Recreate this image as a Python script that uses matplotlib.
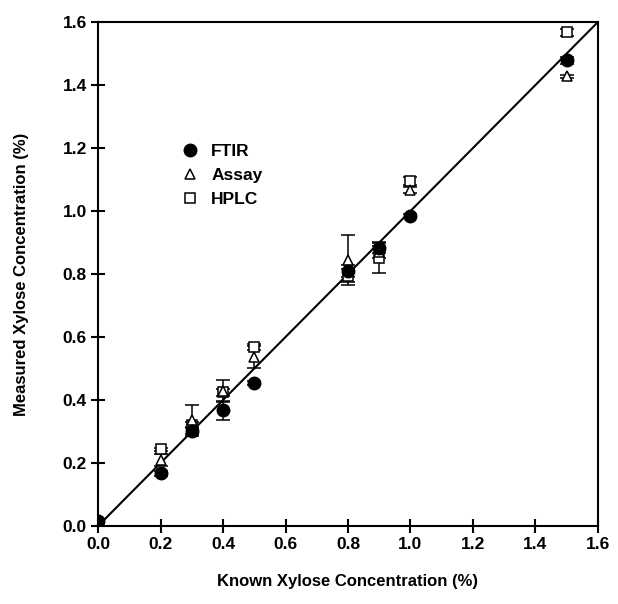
import matplotlib.pyplot as plt

known = [0.0, 0.2, 0.3, 0.4, 0.5, 0.8, 0.9, 1.0, 1.5]

ftir = [0.015, 0.168, 0.303, 0.368, 0.455, 0.81, 0.882, 0.984, 1.478]
ftir_err = [0.006, 0.008, 0.01, 0.03, 0.006, 0.02, 0.015, 0.006, 0.01]

assay = [0.005, 0.21, 0.335, 0.43, 0.537, 0.845, 0.87, 1.067, 1.427]
assay_err = [0.005, 0.02, 0.05, 0.035, 0.035, 0.08, 0.02, 0.01, 0.006]

hplc = [0.0, 0.243, 0.32, 0.424, 0.568, 0.795, 0.852, 1.095, 1.567]
hplc_err = [0.005, 0.006, 0.01, 0.01, 0.01, 0.02, 0.05, 0.012, 0.01]

plt.rcParams['font.family'] = ['Liberation Sans', 'DejaVu Sans']
plt.rcParams['font.weight'] = 'bold'

fig = plt.figure(figsize=(6.18, 6.04), dpi=100)
ax = fig.add_axes([0.1586, 0.1291, 0.809, 0.8345])

# identity line
ax.plot([0, 1.6], [0, 1.6], color='black', lw=1.5, zorder=1)

common = dict(linestyle='none', ecolor='black', elinewidth=1.1, capsize=5, capthick=1.1, zorder=3)
ax.errorbar(known, hplc, yerr=hplc_err, marker='s', markersize=6.5, mfc='white',
            mec='black', mew=1.1, label='HPLC', **common)
ax.errorbar(known, assay, yerr=assay_err, marker='^', markersize=7.5, mfc='white',
            mec='black', mew=1.1, label='Assay', **common)
ax.errorbar(known, ftir, yerr=ftir_err, marker='o', markersize=9, mfc='black',
            mec='black', label='FTIR', **common)

ax.set_xlim(0, 1.6)
ax.set_ylim(0, 1.6)
ticks = [0.0, 0.2, 0.4, 0.6, 0.8, 1.0, 1.2, 1.4, 1.6]
ax.set_xticks(ticks)
ax.set_yticks(ticks)
ax.set_xticklabels([f'{t:.1f}' for t in ticks], fontsize=12.5, fontweight='bold')
ax.set_yticklabels([f'{t:.1f}' for t in ticks], fontsize=12.5, fontweight='bold')
ax.tick_params(direction='inout', length=10, width=1.5, pad=3)
for s in ax.spines.values():
    s.set_linewidth(1.5)

ax.set_xlabel('Known Xylose Concentration (%)', fontsize=12, fontweight='bold', labelpad=16)
ax.set_ylabel('Measured Xylose Concentration (%)', fontsize=12, fontweight='bold', labelpad=24)

handles, labels = ax.get_legend_handles_labels()
order = [2, 1, 0]
leg = ax.legend([handles[i][0] for i in order], [labels[i] for i in order],
                loc='upper left', bbox_to_anchor=(0.126, 0.789), frameon=False,
                prop={'size': 12.5, 'weight': 'bold'}, handletextpad=0.5,
                labelspacing=0.5, handlelength=1.5)

fig.savefig('out.png', dpi=100)
